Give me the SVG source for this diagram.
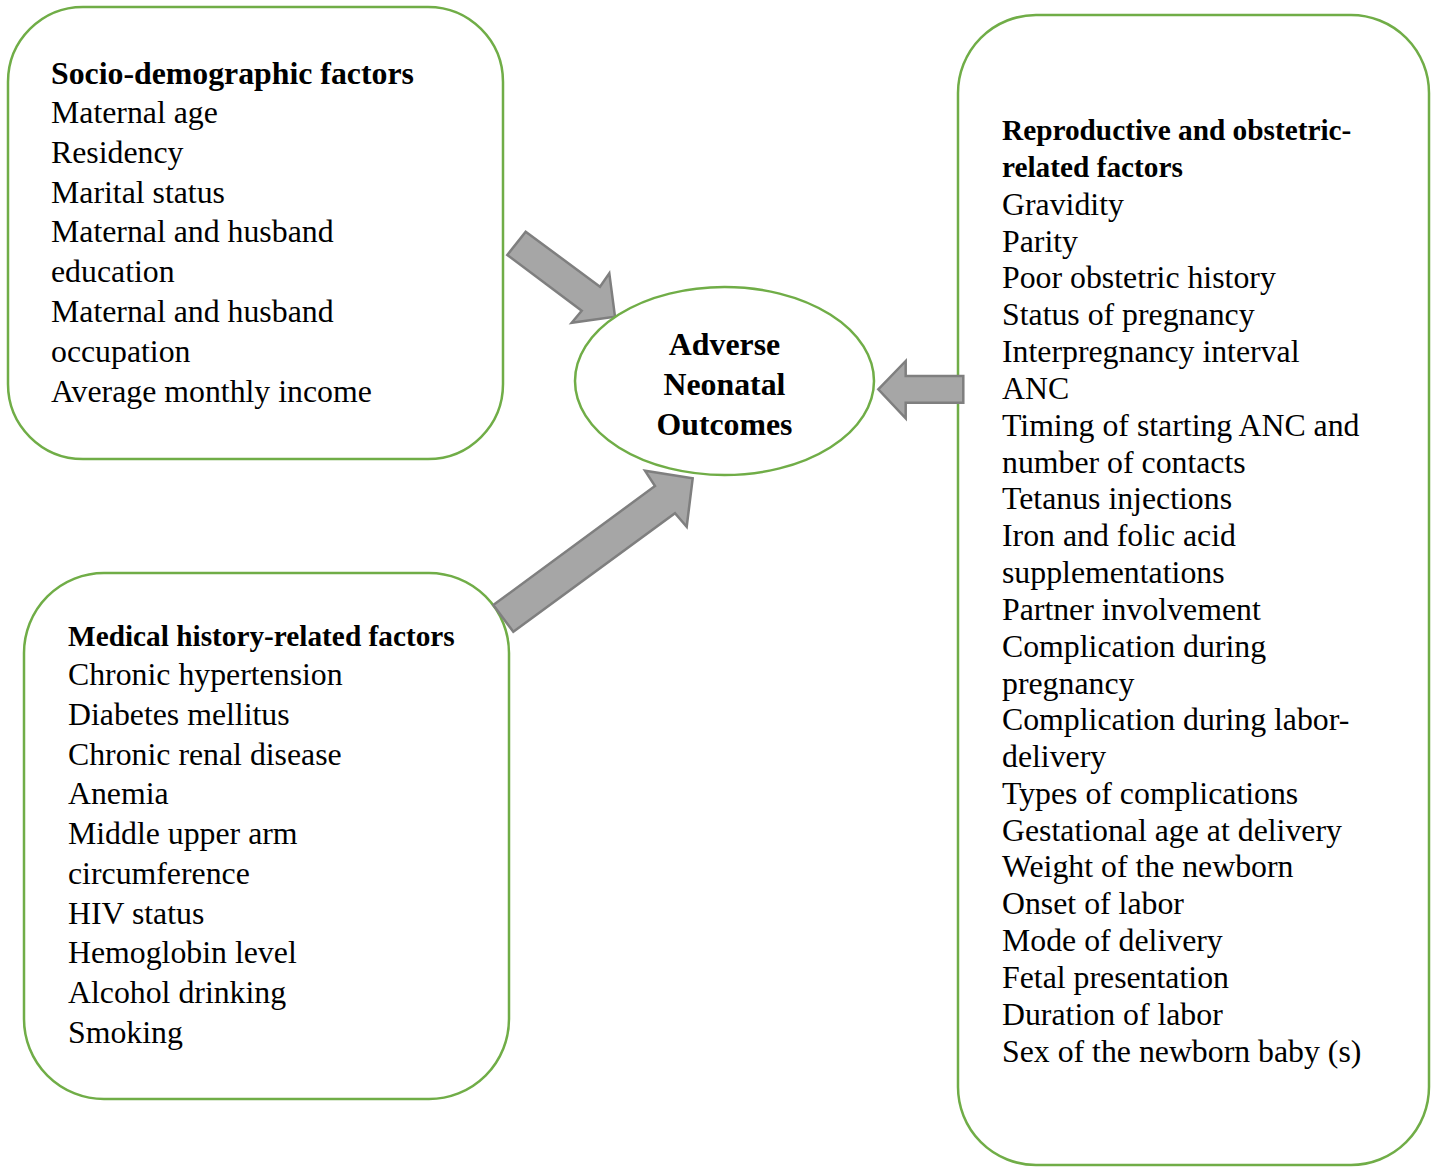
<svg xmlns="http://www.w3.org/2000/svg" width="1437" height="1167" viewBox="0 0 1437 1167">
<style>
.box{fill:#fff;stroke:#70ad47;stroke-width:2.5}
.arr{fill:#a6a6a6;stroke:#7f7f7f;stroke-width:2.5;stroke-linejoin:miter}
text{font-family:"Liberation Serif","Times New Roman",serif;fill:#000}
.t{font-size:31.8px}
.h{font-size:31.8px;font-weight:bold}
.hs{font-size:29.3px;font-weight:bold}
.c{text-anchor:middle}
</style>
<rect width="1437" height="1167" fill="#fff"/>
<g id="socio">
<rect class="box" x="8" y="7" width="495" height="452" rx="75" ry="75"/>
<text x="51" y="84" class="h">Socio-demographic factors</text>
<text class="t" x="51">
<tspan x="51" y="123">Maternal age</tspan>
<tspan x="51" y="163">Residency</tspan>
<tspan x="51" y="203">Marital status</tspan>
<tspan x="51" y="242">Maternal and husband</tspan>
<tspan x="51" y="282">education</tspan>
<tspan x="51" y="322">Maternal and husband</tspan>
<tspan x="51" y="362">occupation</tspan>
<tspan x="51" y="402">Average monthly income</tspan>
</text>
</g>
<g id="medical">
<rect class="box" x="24" y="573" width="485" height="526" rx="80" ry="80"/>
<text x="68" y="646" class="hs">Medical history-related factors</text>
<text class="t">
<tspan x="68" y="685">Chronic hypertension</tspan>
<tspan x="68" y="725">Diabetes mellitus</tspan>
<tspan x="68" y="765">Chronic renal disease</tspan>
<tspan x="68" y="804">Anemia</tspan>
<tspan x="68" y="844">Middle upper arm</tspan>
<tspan x="68" y="884">circumference</tspan>
<tspan x="68" y="924">HIV status</tspan>
<tspan x="68" y="963">Hemoglobin level</tspan>
<tspan x="68" y="1003">Alcohol drinking</tspan>
<tspan x="68" y="1043">Smoking</tspan>
</text>
</g>
<g id="reproductive">
<rect class="box" x="958" y="15" width="471" height="1150" rx="78" ry="78"/>
<text class="hs">
<tspan x="1002" y="140">Reproductive and obstetric-</tspan>
<tspan x="1002" y="177">related factors</tspan>
</text>
<text class="t">
<tspan x="1002" y="215">Gravidity</tspan>
<tspan x="1002" y="252">Parity</tspan>
<tspan x="1002" y="288">Poor obstetric history</tspan>
<tspan x="1002" y="325">Status of pregnancy</tspan>
<tspan x="1002" y="362">Interpregnancy interval</tspan>
<tspan x="1002" y="399">ANC</tspan>
<tspan x="1002" y="436">Timing of starting ANC and</tspan>
<tspan x="1002" y="473">number of contacts</tspan>
<tspan x="1002" y="509">Tetanus injections</tspan>
<tspan x="1002" y="546">Iron and folic acid</tspan>
<tspan x="1002" y="583">supplementations</tspan>
<tspan x="1002" y="620">Partner involvement</tspan>
<tspan x="1002" y="657">Complication during</tspan>
<tspan x="1002" y="694">pregnancy</tspan>
<tspan x="1002" y="730">Complication during labor-</tspan>
<tspan x="1002" y="767">delivery</tspan>
<tspan x="1002" y="804">Types of complications</tspan>
<tspan x="1002" y="841">Gestational age at delivery</tspan>
<tspan x="1002" y="877">Weight of the newborn</tspan>
<tspan x="1002" y="914">Onset of labor</tspan>
<tspan x="1002" y="951">Mode of delivery</tspan>
<tspan x="1002" y="988">Fetal presentation</tspan>
<tspan x="1002" y="1025">Duration of labor</tspan>
<tspan x="1002" y="1062">Sex of the newborn baby (s)</tspan>
</text>
</g>
<g id="connectors">
<polygon class="arr" points="525.7,231.7 600,286.7 609.3,273.3 615,316.7 571.7,322.7 581.7,310.7 507.3,255"/>
<polygon class="arr" points="493.3,605 655,486 645,470.7 692.7,478.3 686.7,526.7 675,513.3 513.3,631.7"/>
<polygon class="arr" points="878.3,389.3 905.7,361 905.7,376 963.3,376 963.3,402.7 905.7,402.7 905.7,418.3"/>
</g>
<g id="outcome">
<ellipse class="box" cx="724.5" cy="381" rx="149.5" ry="94"/>
<text class="h c" x="724.5" y="355">Adverse</text>
<text class="h c" x="724.5" y="395">Neonatal</text>
<text class="h c" x="724.5" y="435">Outcomes</text>
</g>
</svg>
